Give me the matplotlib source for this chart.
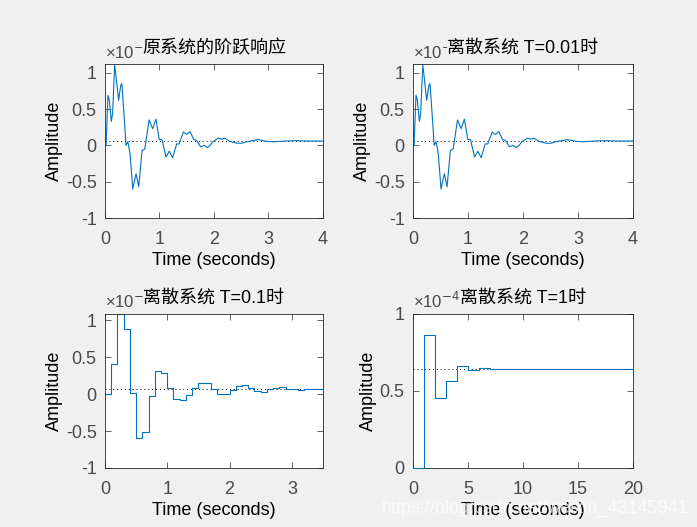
import matplotlib
matplotlib.use('Agg')
import matplotlib.pyplot as plt
import numpy as np

plt.rcParams['font.family'] = ['Liberation Sans', 'Noto Sans CJK SC', 'DejaVu Sans']
plt.rcParams['axes.unicode_minus'] = False

# continuous step response (units of 1e-3)
t_c = [0, 0.02, 0.055, 0.08, 0.116, 0.14, 0.178, 0.21, 0.25, 0.29, 0.31, 0.36, 0.385,
       0.42, 0.46, 0.51, 0.57, 0.62, 0.68, 0.73, 0.81, 0.875, 0.935, 0.997, 1.046,
       1.12, 1.18, 1.24, 1.315, 1.36, 1.44, 1.50, 1.56, 1.63, 1.68, 1.755, 1.82, 1.88,
       1.93, 1.98, 2.08, 2.14, 2.2, 2.29, 2.42, 2.51, 2.63, 2.81, 2.97, 3.1, 3.3, 3.5,
       3.7, 4.0]
y_c = [0, 0.0, 0.69, 0.62, 0.33, 0.44, 1.11, 0.9, 0.62, 0.83, 0.85, 0.3, 0.0,
       0.05, -0.11, -0.6, -0.39, -0.57, -0.07, -0.05, 0.35, 0.23, 0.36, 0.08, 0.08,
       -0.16, -0.08, -0.17, 0.02, 0.02, 0.185, 0.15, 0.19, 0.08, 0.07, -0.02, 0.0, -0.03,
       0.0, 0.05, 0.1, 0.085, 0.1, 0.055, 0.03, 0.03, 0.055, 0.08, 0.055, 0.05, 0.06, 0.065,
       0.06, 0.06]
dc_top = 0.064

# T = 0.1 samples (units of 1e-3)
y_01 = [0, 0.41, 1.08, 0.88, 0.015, -0.6, -0.51, -0.02, 0.31, 0.29,
        0.08, -0.065, -0.08, -0.015, 0.08, 0.155, 0.15, 0.075, 0.0, -0.005,
        0.055, 0.11, 0.12, 0.08, 0.045, 0.035, 0.065, 0.085, 0.09, 0.07,
        0.065, 0.06, 0.065, 0.07, 0.07, 0.07]
T1 = 0.1

# T = 1 samples (units of 1e-4)
y_1 = [0, 0.864, 0.454, 0.564, 0.659, 0.637, 0.646, 0.641, 0.642, 0.641,
       0.641, 0.641, 0.641, 0.641, 0.641, 0.641, 0.641, 0.641, 0.641, 0.641, 0.641]
dc_bot = 0.641

titles = ['原系统的阶跃响应', '离散系统 T=0.01时', '离散系统 T=0.1时', '离散系统 T=1时']
exps = ['-3', '-3', '-3', '-4']

blue = '#0072BD'
bg = '#F0F0F0'
fs = 13

fig = plt.figure(figsize=(6.97, 5.27), dpi=100, facecolor=bg)
pos = [[0.1506, 0.5863, 0.3128, 0.2922],
       [0.5925, 0.5863, 0.3156, 0.2922],
       [0.1506, 0.1120, 0.3128, 0.2930],
       [0.5925, 0.1120, 0.3156, 0.2930]]
axs = [fig.add_axes(p) for p in pos]

for i, ax in enumerate(axs):
    ax.set_facecolor('white')
    for s in ax.spines.values():
        s.set_color('#262626')
        s.set_linewidth(0.6)
    ax.tick_params(direction='in', top=True, right=True, length=4, width=0.5,
                   labelsize=fs, colors='#262626', labelcolor='#4a4a4a', pad=6)
    ax.tick_params(axis='x', pad=9.5)
    ax.set_xlabel('Time (seconds)', fontsize=fs, color='black', labelpad=3)
    ax.set_ylabel('Amplitude', fontsize=fs, color='black', labelpad=2)
    ax.text(0.0, 1.015, '×10$^{' + exps[i] + '}$', transform=ax.transAxes,
            fontsize=12, color='#4a4a4a', ha='left', va='bottom', zorder=1)
    ax.set_title(titles[i], fontsize=fs, pad=8,
                 bbox=dict(facecolor=bg, edgecolor='none', pad=0.0), zorder=5)

# top row: continuous (and T=0.01 looks the same)
for ax in axs[:2]:
    ax.axhline(dc_top, color='black', linestyle=(0, (1, 3)), linewidth=0.7)
    ax.plot(t_c, y_c, color=blue, linewidth=0.8)
    ax.set_xlim(0, 4)
    ax.set_ylim(-1, 1.12)
    ax.set_xticks([0, 1, 2, 3, 4])
    ax.set_yticks([-1, -0.5, 0, 0.5, 1])
    ax.set_yticklabels(['-1', '-0.5', '0', '0.5', '1'])

ax = axs[2]
t01 = np.arange(len(y_01) + 1) * T1
ax.axhline(dc_top, color='black', linestyle=(0, (1, 3)), linewidth=0.7)
ax.step(t01, y_01 + [y_01[-1]], where='post', color=blue, linewidth=0.8)
ax.set_xlim(0, 3.5)
ax.set_ylim(-1, 1.09)
ax.set_xticks([0, 1, 2, 3])
ax.set_yticks([-1, -0.5, 0, 0.5, 1])
ax.set_yticklabels(['-1', '-0.5', '0', '0.5', '1'])

ax = axs[3]
t1 = np.arange(len(y_1))
ax.axhline(dc_bot, color='black', linestyle=(0, (1, 3)), linewidth=0.7)
ax.step(t1, y_1, where='post', color=blue, linewidth=0.8, zorder=4, clip_on=False)
ax.set_xlim(0, 20)
ax.set_ylim(0, 1)
ax.set_xticks([0, 5, 10, 15, 20])
ax.set_yticks([0, 0.5, 1])
ax.set_yticklabels(['0', '0.5', '1'])

fig.text(0.987, 0.036, 'https://blog.csdn.net/weixin_43145941', ha='right', va='center',
         fontsize=fs, color='white', alpha=0.75)

fig.savefig('out.png', dpi=100, facecolor=bg)
